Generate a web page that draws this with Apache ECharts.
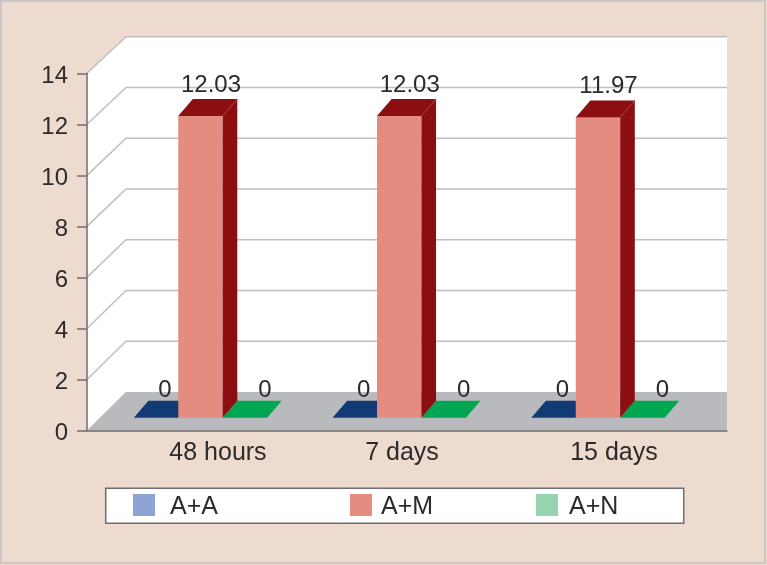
<!DOCTYPE html>
<html>
<head>
<meta charset="utf-8">
<title>Chart</title>
<script src="https://cdn.jsdelivr.net/npm/echarts@6/dist/echarts.min.js"></script>
<style>
  html, body { margin: 0; padding: 0; background: #eedbd0; }
  #chart { width: 767px; height: 565px; }
</style>
</head>
<body>
<div id="chart"></div>
<script>
const categories = ['48 hours', '7 days', '15 days']
const yTicks = [0, 2, 4, 6, 8, 10, 12, 14]
const aaValues = [0, 0, 0]
const amValues = [12.03, 12.03, 11.97]
const anValues = [0, 0, 0]

const font = '"Liberation Sans", Arial, sans-serif'
const textColor = '#2c2a2a'

// fake 3d: how far the back wall and the bars sit behind the front plane
const backDx = 39
const backDy = -38.5
const backScale = 0.9945
const barBaseDy = -12.8
const barScale = 0.983
const barDx = 14.6
const barDy = -17
const barWidthRatio = 0.2236

// left padding moves each axis label, the labels are not centred on the groups
const labelPads = [35, 5.5, 32]

function wallsItem(params, api) {
  const l0 = api.coord([0, 0])
  const l14 = api.coord([0, 14])
  const r0 = api.coord([1, 0])
  const backTop = l0[1] + (l14[1] - l0[1]) * backScale + backDy
  const backBottom = l0[1] + backDy
  const bx = l0[0] + backDx
  const white = { fill: '#ffffff' }
  return {
    type: 'group',
    children: [
      { type: 'polygon', shape: { points: [[l0[0], l0[1]], [l14[0], l14[1]], [bx, backTop], [bx, backBottom]] }, style: white },
      { type: 'rect', shape: { x: bx, y: backTop, width: r0[0] - bx, height: backBottom - backTop }, style: white },
      { type: 'polygon', shape: { points: [[l0[0], l0[1]], [bx, backBottom], [r0[0], backBottom], [r0[0], l0[1]]] }, style: { fill: '#b9babd' } }
    ]
  }
}

function gridLineItem(params, api) {
  const l0 = api.coord([0, 0])
  const p = api.coord([0, api.value(1)])
  const r = api.coord([1, 0])
  const by = l0[1] + (p[1] - l0[1]) * backScale + backDy
  const bx = p[0] + backDx
  return {
    type: 'polyline',
    shape: { points: [[p[0], p[1]], [bx, by], [r[0], by]] },
    style: { fill: 'none', stroke: '#bfbfbf', lineWidth: 1.5 }
  }
}

// one prism: front face, side face, top face and its value above
function barItem(slot, front, dark, labelDx, labelDy) {
  return function (params, api) {
    const idx = api.value(0)
    const v = api.value(1)
    const p0 = api.coord([idx, 0])
    const p = api.coord([idx, v])
    const w = api.size([1, 0])[0] * barWidthRatio
    const x0 = p0[0] - w / 2 + slot * w
    const x1 = x0 + w
    const yb = p0[1] + barBaseDy
    const yt = yb - (p0[1] - p[1]) * barScale
    const children = [
      { type: 'rect', shape: { x: x0, y: yt, width: w, height: yb - yt }, style: { fill: front } },
      { type: 'polygon', shape: { points: [[x1, yb], [x1 + barDx, yb + barDy], [x1 + barDx, yt + barDy], [x1, yt]] }, style: { fill: dark } },
      { type: 'polygon', shape: { points: [[x0, yt], [x0 + barDx, yt + barDy], [x1 + barDx, yt + barDy], [x1, yt]] }, style: { fill: dark } },
      {
        type: 'text',
        style: {
          x: x0 + w / 2 + labelDx,
          y: yt + barDy + labelDy,
          text: String(v),
          fontSize: 24,
          fontFamily: font,
          fill: textColor,
          align: 'center',
          verticalAlign: 'bottom'
        }
      }
    ]
    if (v > 0) {
      // faint lighter edge where the top meets the side
      children.splice(3, 0, {
        type: 'line',
        shape: { x1: x1, y1: yt, x2: x1 + barDx, y2: yt + barDy },
        style: { stroke: '#a83a2c', lineWidth: 1 }
      })
    }
    return { type: 'group', children: children }
  }
}

function barSeries(name, values, slot, front, legendColor, dark, labelDx, labelDy) {
  return {
    name: name,
    type: 'custom',
    xAxisIndex: 1,
    yAxisIndex: 1,
    clip: false,
    silent: true,
    itemStyle: { color: legendColor },
    encode: { x: 0, y: 1 },
    data: values.map((v, i) => [i, v]),
    renderItem: barItem(slot, front, dark, labelDx, labelDy)
  }
}

function legendAt(name, left, textGap) {
  return {
    data: [name],
    left: left,
    top: 494,
    padding: 0,
    itemWidth: 22,
    itemHeight: 22,
    icon: 'rect',
    selectedMode: false,
    formatter: '{t|{name}}',
    textStyle: {
      rich: { t: { fontSize: 25, fontFamily: font, color: textColor, padding: [4, 0, 0, textGap] } }
    }
  }
}

const myChart = echarts.init(document.getElementById('chart'), null, { renderer: 'canvas' })
myChart.setOption({
  animation: false,
  backgroundColor: '#eedbd0',
  graphic: [
    { type: 'rect', z: 0, shape: { x: 1, y: 1, width: 764, height: 562 }, style: { fill: 'none', stroke: '#c9c7c5', lineWidth: 2 } },
    { type: 'rect', z: 0, shape: { x: 105.7, y: 488.3, width: 578, height: 35 }, style: { fill: '#ffffff', stroke: '#6e6e6e', lineWidth: 1.5 } }
  ],
  grid: [
    { left: 87, top: 73.3, width: 640, height: 357.2 },
    { left: 101.1, top: 73.3, width: 596.25, height: 357.2 }
  ],
  xAxis: [
    {
      type: 'value',
      gridIndex: 0,
      min: 0,
      max: 1,
      z: 5,
      axisLine: { show: true, onZero: false, lineStyle: { color: '#6e6e6e', width: 1.5 } },
      axisTick: { show: false },
      axisLabel: { show: false },
      splitLine: { show: false }
    },
    {
      type: 'category',
      gridIndex: 1,
      data: categories,
      axisLine: { show: false },
      axisTick: { show: false },
      axisLabel: {
        margin: 10,
        interval: 0,
        formatter: (value, index) => '{l' + index + '|' + value + '}',
        rich: {
          l0: { fontSize: 25, fontFamily: font, color: textColor, padding: [0, 0, 0, labelPads[0]] },
          l1: { fontSize: 25, fontFamily: font, color: textColor, padding: [0, 0, 0, labelPads[1]] },
          l2: { fontSize: 25, fontFamily: font, color: textColor, padding: [0, 0, 0, labelPads[2]] }
        }
      }
    }
  ],
  yAxis: [
    {
      type: 'value',
      gridIndex: 0,
      min: 0,
      max: 14,
      interval: 2,
      z: 5,
      axisLine: { show: true, onZero: false, lineStyle: { color: '#6e6e6e', width: 1.5 } },
      axisTick: { show: true, length: 10, lineStyle: { color: '#6e6e6e', width: 1.5 } },
      axisLabel: {
        margin: 19,
        formatter: '{v|{value}}',
        rich: { v: { fontSize: 24, fontFamily: font, color: textColor, padding: [6, 0, 0, 0] } }
      },
      splitLine: { show: false }
    },
    {
      type: 'value',
      gridIndex: 1,
      min: 0,
      max: 14,
      interval: 2,
      show: false,
      splitLine: { show: false }
    }
  ],
  legend: [
    legendAt('A+A', 133, 10),
    legendAt('A+M', 350, 4),
    legendAt('A+N', 536, 6)
  ],
  series: [
    {
      name: 'walls',
      type: 'custom',
      clip: false,
      silent: true,
      encode: { x: 0, y: 1 },
      data: [[0, 0]],
      renderItem: wallsItem
    },
    {
      name: 'gridlines',
      type: 'custom',
      clip: false,
      silent: true,
      encode: { x: 0, y: 1 },
      data: yTicks.filter(t => t > 0).map(t => [0, t]),
      renderItem: gridLineItem
    },
    barSeries('A+A', aaValues, -1, '#123a75', '#8fa2d4', '#123a75', 9, 2),
    barSeries('A+N', anValues, 1, '#00a651', '#97d3b0', '#00a651', 20, 2),
    barSeries('A+M', amValues, 0, '#e38c7f', '#e38c7f', '#8b0f10', 10.5, -2)
  ]
})
</script>
</body>
</html>
